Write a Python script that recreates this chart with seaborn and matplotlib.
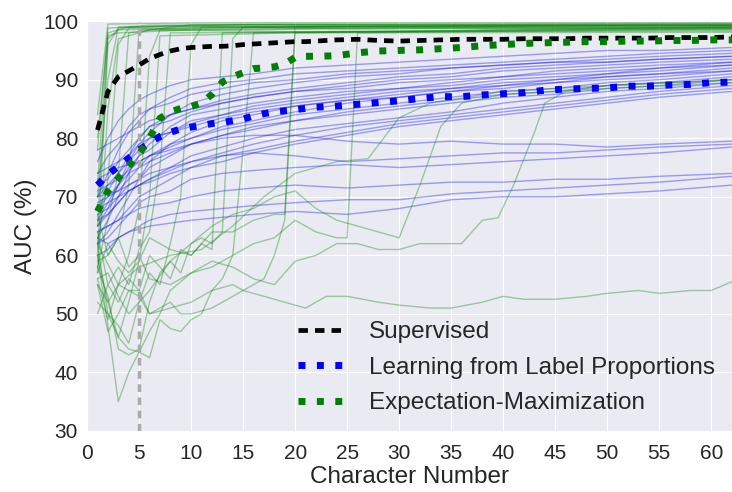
import matplotlib
matplotlib.use('Agg')
import matplotlib.pyplot as plt
import numpy as np
import pandas as pd
import seaborn as sns

# mean curves
MEAN_X = [1, 2, 3, 4, 5, 6, 7, 8, 9, 10, 11, 12, 13, 14, 15, 16, 17, 18, 19, 20,
          21, 22, 24, 26, 28, 30, 32, 34, 36, 38, 40, 42, 44, 46, 48, 50, 52, 54, 56, 58, 60, 62]
SUPERVISED = [81.4, 88.0, 90.5, 91.5, 92.5, 93.6, 94.3, 94.9, 95.3, 95.5, 95.6, 95.7, 95.7, 95.8,
              96.0, 96.1, 96.2, 96.3, 96.4, 96.5, 96.5, 96.6, 96.8, 96.9, 96.7, 96.6, 96.7, 96.8,
              96.9, 96.9, 96.9, 97.0, 97.0, 97.0, 97.1, 97.1, 97.1, 97.1, 97.2, 97.2, 97.2, 97.3]
LLP_MEAN = [72.0, 73.8, 75.2, 76.6, 78.0, 79.2, 80.3, 81.0, 81.6, 81.9, 82.2, 82.5, 82.7, 83.0,
            83.3, 83.8, 84.2, 84.5, 84.7, 84.9, 85.1, 85.3, 85.5, 85.8, 86.1, 86.4, 86.8, 87.1,
            87.1, 87.4, 87.6, 87.8, 88.2, 88.4, 88.5, 88.6, 88.9, 88.9, 89.1, 89.2, 89.5, 89.6]
EM_MEAN = [67.5, 71.0, 73.2, 75.3, 77.3, 80.0, 83.4, 84.5, 85.1, 85.4, 86.0, 87.5, 89.6, 90.5,
           91.2, 91.9, 92.0, 92.2, 92.7, 93.8, 94.0, 94.0, 94.1, 94.6, 94.9, 95.0, 95.1, 95.3,
           95.5, 95.8, 96.0, 96.2, 96.3, 96.4, 96.5, 96.5, 96.6, 96.6, 96.7, 96.7, 96.8, 96.8]

# individual LLP runs (thin blue lines)
RUN_X = [1, 2, 3, 4, 5, 6, 8, 10, 13, 16, 20, 25, 30, 35, 40, 45, 50, 55, 62]
LLP_RUNS = [
    [76, 80, 83, 85, 86.5, 87.5, 89, 90, 90.5, 91, 92, 92.5, 93, 93.5, 94, 94.5, 95, 95, 95.5],
    [70, 74, 78, 81, 83, 85, 87, 88.5, 89.5, 90, 91, 91.5, 92, 92.5, 93, 93.5, 94, 94.5, 95],
    [74, 77, 79, 82, 84, 85, 86, 87.5, 88.5, 89.5, 90, 91, 91.5, 92, 92.5, 93, 93.5, 94, 94.5],
    [65, 68, 72, 76, 79, 81, 84, 86, 87.5, 88.5, 89.5, 90.5, 91, 92, 92.5, 93, 93, 93.5, 94],
    [72, 73, 76, 78, 80, 82, 84, 85, 86.5, 87.5, 88.5, 89.5, 90.5, 91, 92, 92.5, 93, 93.5, 94],
    [68, 71, 74, 77, 80, 82, 83, 84.5, 86, 87, 88, 89, 90, 90.5, 91.5, 92, 92.5, 93, 93.5],
    [78, 79, 80, 81, 82, 83, 84, 85, 86, 87, 88, 88.5, 89.5, 90, 90.5, 91.5, 92, 92.5, 93],
    [63, 66, 70, 74, 77, 79, 82, 84, 85, 86, 87, 88, 88.5, 89.5, 90.5, 91, 91.5, 92, 93],
    [70, 72, 74, 76, 78, 80, 81, 83, 84, 85.5, 86.5, 87.5, 88.5, 89, 90, 90.5, 91, 92, 92.5],
    [66, 69, 72, 75, 77, 78, 81, 82.5, 84, 85, 86, 87, 88, 88.5, 89.5, 90, 91, 91.5, 92.5],
    [74, 75, 76, 77, 79, 80, 81, 82, 83.5, 84.5, 85.5, 86.5, 87.5, 88.5, 89, 90, 90.5, 91, 92],
    [62, 64, 67, 70, 73, 76, 79, 81, 83, 84, 85.5, 86.5, 87, 88, 89, 89.5, 90.5, 91, 91.5],
    [69, 70, 71, 73, 75, 77, 79, 80, 82, 83, 84.5, 86, 87, 88, 88.5, 89.5, 90, 90.5, 91.5],
    [71, 72, 73, 74.5, 76, 77, 78.5, 80, 81.5, 82.5, 84, 85, 86, 87, 88, 88.5, 89.5, 90, 91],
    [67, 68, 70, 72, 73, 75, 77, 79, 80.5, 82, 83, 84.5, 85.5, 86.5, 87.5, 88, 89, 89.5, 90.5],
    [73, 74, 75, 75.5, 76, 77, 78, 79, 80.5, 81.5, 83, 84, 85, 86, 87, 87.5, 88.5, 89, 90],
    [65, 67, 69, 71, 72, 73, 75, 77, 78.5, 80, 81.5, 82.5, 83.5, 84.5, 86, 87, 88, 88.5, 89.5],
    [70, 70.5, 71, 72, 73, 74, 75, 76, 77.5, 79, 80.5, 82, 83, 84, 85, 86, 87, 88, 89],
    [64, 65, 66, 68, 70, 71, 73, 75, 77, 78, 79.5, 81, 82.5, 83.5, 84.5, 85.5, 86.5, 87.5, 88.5],
    [68, 69, 70, 71, 72, 72.5, 74, 75, 76, 77.5, 79, 80.5, 82, 83, 84, 85, 86, 87, 88],
    [68, 70, 72, 74, 75, 76, 77.5, 79, 80, 80.5, 80.5, 79.5, 79, 79.5, 79, 79, 78.5, 79, 79.5],
    [66, 67, 69, 71, 72, 73, 74.5, 76, 77, 77.5, 77, 76, 76.5, 77, 77.5, 77.5, 78, 78.5, 79],
    [62, 63, 65, 67, 69, 70, 71, 73, 74, 74.5, 75, 75.5, 75, 75.5, 76, 76.5, 77, 77.5, 78.5],
    [64, 65, 66, 67, 68, 68.5, 69, 70, 71, 71.5, 72, 71.5, 72, 72.5, 72.5, 73, 73, 73.5, 74],
    [60, 61, 63, 64, 65, 66, 67, 67.5, 68, 68.5, 69, 69.5, 69.5, 70.5, 71, 71.5, 72, 72.5, 73.5],
    [63, 62, 63, 64, 64.5, 65, 65.5, 66, 66.5, 67, 67.5, 67, 68, 69.5, 70, 70, 70.5, 71, 72],
]

# individual EM runs (thin green lines), (character, AUC) pairs
EM_RUNS = [
    [(1, 84), (2, 99.5), (10, 99.7), (30, 99.8), (62, 99.8)],
    [(1, 78), (2, 98.8), (6, 99.3), (20, 99.5), (62, 99.6)],
    [(1, 72), (2, 98), (4, 99), (15, 99.3), (40, 99.4), (62, 99.5)],
    [(1, 65), (2, 97), (3, 98.5), (12, 99), (30, 99.2), (62, 99.3)],
    [(1, 60), (2, 96), (3, 98.8), (8, 99.2), (25, 98.7), (62, 99)],
    [(1, 80), (2, 97.5), (3, 98), (10, 98.5), (35, 98.8), (62, 98.6)],
    [(1, 57), (2, 85), (3, 97), (6, 98.5), (20, 98.2), (62, 98.3)],
    [(1, 70), (2, 90), (3, 99), (15, 99.4), (62, 99.2)],
    [(1, 62), (2, 73), (3, 96), (4, 98.8), (30, 99), (62, 98.9)],
    [(1, 58), (2, 66), (3, 74), (4, 98), (10, 99.4), (62, 99.5)],
    [(1, 67), (2, 60), (3, 63), (4, 72), (5, 98.5), (20, 99.1), (62, 99.4)],
    [(1, 56), (2, 49), (3, 55), (4, 60), (5, 68), (6, 94), (7, 98.5), (30, 98.9), (62, 98.8)],
    [(1, 60), (2, 52), (3, 46), (4, 52), (5, 59), (6, 70), (7, 97.5), (20, 98), (62, 98.1)],
    [(1, 64), (2, 55), (3, 58), (4, 55), (5, 61), (6, 64), (7, 75), (8, 98), (62, 98.5)],
    [(1, 62), (2, 50), (3, 48), (4, 45), (5, 52), (6, 57), (7, 55), (8, 62), (9, 70), (10, 96),
     (11, 99), (62, 99.2)],
    [(1, 50), (2, 55), (3, 52), (4, 56), (5, 54), (6, 60), (7, 58), (8, 56), (9, 61), (10, 60),
     (11, 62), (12, 61), (13, 98), (62, 99)],
    [(1, 58), (2, 53), (3, 44), (4, 43), (5, 44), (6, 52), (7, 57), (8, 59), (9, 57), (10, 62),
     (11, 63), (12, 62), (13, 64), (14, 97), (15, 99), (62, 99.3)],
    [(1, 60), (2, 48), (3, 35), (4, 40), (5, 43.5), (6, 42.5), (7, 49), (8, 47.5), (9, 47),
     (10, 49), (11, 50), (12, 54), (13, 56), (14, 60), (15, 78), (16, 98), (62, 98.8)],
    [(1, 55), (2, 47), (3, 50), (4, 54), (5, 54), (6, 50), (7, 51), (8, 52), (9, 50), (10, 50),
     (12, 51), (14, 53), (15, 54), (17, 56), (18, 60), (19, 66), (20, 98), (62, 99)],
    [(1, 57), (2, 62), (3, 59), (4, 57), (5, 59), (6, 63), (8, 61), (10, 60), (12, 64), (14, 64),
     (16, 66), (18, 67), (19, 67), (20, 99), (62, 99.2)],
    [(1, 59), (2, 60), (3, 63), (4, 58), (5, 60), (6, 56), (8, 55), (10, 57), (12, 58), (14, 60),
     (16, 62), (18, 63), (20, 66), (22, 64), (24, 63), (25, 63), (26, 98), (62, 98.7)],
    [(1, 56), (2, 57), (3, 53), (4, 50), (5, 52), (6, 54), (8, 59), (10, 62), (12, 65), (14, 67),
     (16, 68), (18, 70), (20, 71), (22, 68), (24, 66), (26, 65), (28, 64), (30, 63), (32, 72),
     (34, 82), (36, 86), (40, 87.5), (50, 88.5), (62, 89.5)],
    [(1, 52), (2, 50), (3, 46), (4, 44), (5, 43.5), (6, 47), (7, 50), (8, 54), (10, 57),
     (12, 59), (14, 58), (16, 56), (18, 55), (20, 59), (22, 60), (24, 62), (26, 62), (28, 61),
     (30, 61), (32, 62), (34, 62), (36, 62), (38, 66), (39.5, 66.4), (41, 72), (43, 81),
     (44, 86), (46, 88), (50, 89), (62, 90)],
    [(1, 55), (2, 52), (3, 55), (4, 54), (5, 53), (6, 50), (8, 51), (10, 52), (12, 54), (14, 55),
     (15, 54), (17, 53), (19, 52), (21, 51), (23, 53), (25, 53), (28, 52), (30, 51.5), (33, 51),
     (35, 51), (38, 52), (40, 53), (42, 52.5), (45, 52.5), (48, 53), (50, 53.5), (53, 54),
     (55, 53.5), (58, 54), (60, 54), (62, 55.5)],
    [(1, 62), (3, 55), (5, 58), (8, 60), (11, 61), (14, 65), (17, 70), (20, 74), (24, 76),
     (27, 76.5), (30, 83.5), (33, 86), (40, 88), (50, 89), (62, 90)],
]

LABELS = ['Supervised', 'Learning from Label Proportions', 'Expectation-Maximization']

rows = []
for i, run in enumerate(LLP_RUNS):
    for x, y in zip(RUN_X, run):
        rows.append(('LLP', f'llp{i}', x, y))
for i, run in enumerate(EM_RUNS):
    for x, y in run:
        rows.append(('EM', f'em{i}', x, y))
runs_df = pd.DataFrame(rows, columns=['method', 'run', 'char', 'auc'])

sns.set_style('darkgrid')
plt.rcParams['font.family'] = ['Liberation Sans', 'DejaVu Sans']

fig = plt.figure(figsize=(7.32, 4.92), dpi=100)
ax = fig.add_axes([0.119, 0.124, 0.881, 0.833])

sns.lineplot(data=runs_df, x='char', y='auc', hue='method', units='run', estimator=None,
             palette={'LLP': 'blue', 'EM': 'green'}, alpha=0.35, linewidth=1.0,
             legend=False, ax=ax, sort=False)

ax.axvline(5, color='#aaaaaa', linewidth=2.5, linestyle=(0, (2.2, 1.6)), zorder=2)

sns.lineplot(x=MEAN_X, y=SUPERVISED, color='black', linewidth=3.4,
             linestyle=(0, (2.0, 1.5)), ax=ax, label=LABELS[0], zorder=4)
sns.lineplot(x=MEAN_X, y=LLP_MEAN, color='blue', linewidth=5.0,
             linestyle=':', ax=ax, label=LABELS[1], zorder=4)
sns.lineplot(x=MEAN_X, y=EM_MEAN, color='green', linewidth=5.0,
             linestyle=':', ax=ax, label=LABELS[2], zorder=4)

ax.set_xlim(0, 62)
ax.set_ylim(30, 100)
ax.set_xticks(np.arange(0, 61, 5))
ax.set_yticks(np.arange(30, 101, 10))
ax.tick_params(labelsize=15)
ax.tick_params(axis='x', pad=6)
ax.tick_params(axis='y', pad=3)
ax.set_xlabel('Character Number', fontsize=17.5, labelpad=2)
ax.set_ylabel('AUC (%)', fontsize=17.5, labelpad=4)

ax.legend(loc='lower right', bbox_to_anchor=(1.007, -0.012), frameon=False, fontsize=17.5,
          handlelength=1.82, handletextpad=1.1, labelspacing=0.55)

fig.savefig('out.png', dpi=100)
